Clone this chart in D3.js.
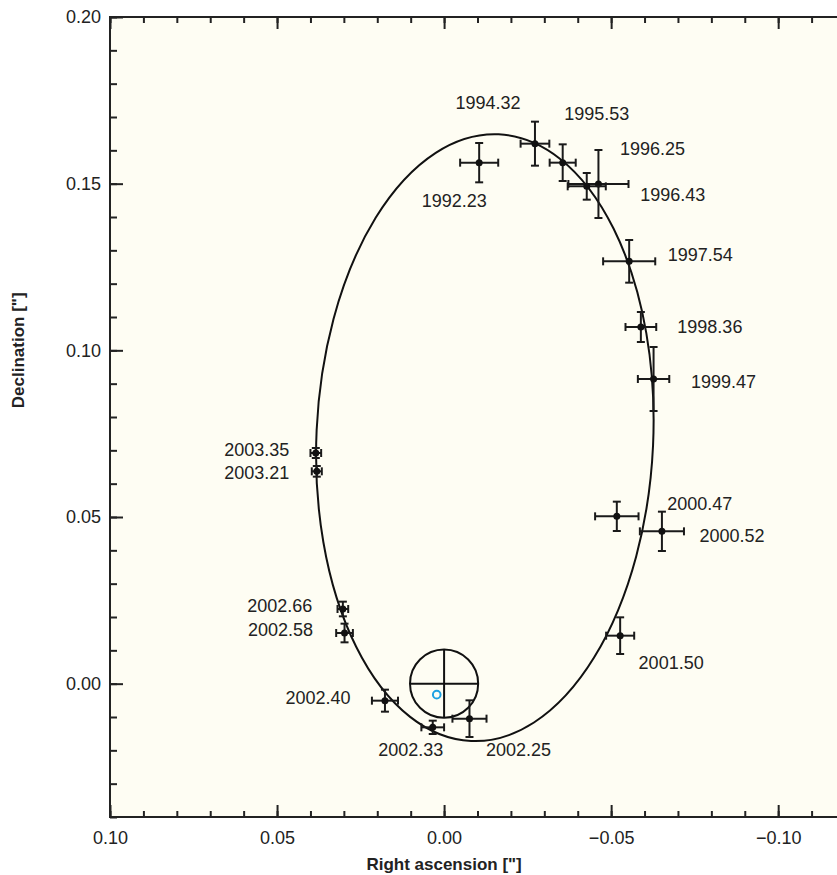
<!DOCTYPE html>
<meta charset="utf-8">
<head>
    <title>Orbit plot</title>
    <script src="https://d3js.org/d3.v7.min.js"></script>
    <style>
    body {
        margin: 0;
        background: #fff;
        font-family: "Liberation Sans", Arial, Helvetica, sans-serif;
    }
    .axis text {
        font: 18px "Liberation Sans", Arial, sans-serif;
        fill: #222;
    }
    .axis line {
        stroke: #222;
        stroke-width: 2;
    }
    .axis path {
        stroke-width: 0;
    }
    .err line {
        stroke: #1a1a1a;
        stroke-width: 2;
    }
    .lbl {
        font: 18px "Liberation Sans", Arial, sans-serif;
        fill: #222;
    }
    </style>
</head>
<body>
<script>

// epochs and measured offsets (arcsec)
var epochs = ["1992.23", "1994.32", "1995.53", "1996.25", "1996.43", "1997.54",
              "1998.36", "1999.47", "2000.47", "2000.52", "2001.50", "2002.25",
              "2002.33", "2002.40", "2002.58", "2002.66", "2003.21", "2003.35"];
var raValues  = [-0.0105, -0.0272, -0.0355, -0.0462, -0.0427, -0.0554,
                 -0.0589, -0.0627, -0.0517, -0.0652, -0.0527, -0.0076,
                  0.0034,  0.0177,  0.0298,  0.0303,  0.0381,  0.0384];
var decValues = [ 0.1563,  0.1620,  0.1563,  0.1499,  0.1492,  0.1267,
                  0.1070,  0.0914,  0.0502,  0.0457,  0.0144, -0.0105,
                 -0.0131, -0.0051,  0.0152,  0.0224,  0.0637,  0.0692];
var raErrors  = [0.0057, 0.0043, 0.0039, 0.0090, 0.0057, 0.0078,
                 0.0046, 0.0047, 0.0065, 0.0066, 0.0042, 0.0051,
                 0.0034, 0.0039, 0.0025, 0.0016, 0.0015, 0.0016];
var decErrors = [0.0059, 0.0066, 0.0055, 0.0102, 0.0040, 0.0064,
                 0.0045, 0.0096, 0.0044, 0.0059, 0.0055, 0.0055,
                 0.0020, 0.0033, 0.0028, 0.0022, 0.0016, 0.0015];

// fitted orbit: centre, semi-axes (arcsec) and tilt (deg)
var orbitCentre = [-0.0122, 0.0738];
var orbitAxes = [0.0504, 0.0911];
var orbitTilt = 2.6;

// central mass marker and its position estimate
var massMarker = [0.0, 0.0, 0.0102];
var massEstimate = [0.0022, -0.0033];

// tick values
var xMajor = [0.10, 0.05, 0.00, -0.05, -0.10];
var xMinor = d3.range(10, -13, -1).map(function(d) { return d / 100; });
var yMajor = [0.00, 0.05, 0.10, 0.15, 0.20];
var yMinor = d3.range(-4, 21).map(function(d) { return d / 100; });

// label offsets in pixels from each point (layout only)
var labelOffsets = [[-25, 38], [-47, -41], [34, -49], [54, -35], [86, 8], [71, -7],
                    [69, 0], [70, 3], [83, -13], [70, 4], [51, 27], [49, 31],
                    [-22, 22], [-67, -3], [-64, -3], [-63, -3], [-60, 1], [-59, -3]];

var margin = {top: 17, left: 110},
    width = 735,
    height = 800;

var x = d3.scaleLinear().domain([0.10, -0.12]).range([0, width]);
var y = d3.scaleLinear().domain([-0.04, 0.20]).range([height, 0]);

var svg = d3.select("body").append("svg")
    .attr("width", 837)
    .attr("height", 875)
  .append("g")
    .attr("transform", "translate(" + margin.left + "," + margin.top + ")");

// plot background
svg.append("rect")
    .attr("width", width)
    .attr("height", height)
    .attr("fill", "#fefdf3");

var fmt = d3.format(".2f");

// bottom axis
svg.append("g").attr("class", "axis")
    .attr("transform", "translate(0," + height + ")")
    .call(d3.axisBottom(x).tickValues(xMinor).tickSize(-6).tickSizeOuter(0).tickFormat(""));
svg.append("g").attr("class", "axis")
    .attr("transform", "translate(0," + height + ")")
    .call(d3.axisBottom(x).tickValues(xMajor).tickSize(-12).tickSizeOuter(0)
        .tickPadding(14).tickFormat(fmt));

// top axis
svg.append("g").attr("class", "axis")
    .call(d3.axisTop(x).tickValues(xMinor).tickSize(-6).tickSizeOuter(0).tickFormat(""));
svg.append("g").attr("class", "axis")
    .call(d3.axisTop(x).tickValues(xMajor).tickSize(-12).tickSizeOuter(0).tickFormat(""));

// left axis
svg.append("g").attr("class", "axis")
    .call(d3.axisLeft(y).tickValues(yMinor).tickSize(-7).tickSizeOuter(0).tickFormat(""));
svg.append("g").attr("class", "axis")
    .call(d3.axisLeft(y).tickValues(yMajor).tickSize(-13).tickSizeOuter(0)
        .tickPadding(9).tickFormat(fmt));

// frame
svg.append("rect")
    .attr("width", width)
    .attr("height", height)
    .attr("fill", "none")
    .attr("stroke", "#222")
    .attr("stroke-width", 2);

// axis titles
svg.append("text")
    .attr("x", x(0))
    .attr("y", height + 53)
    .attr("text-anchor", "middle")
    .style("font", "bold 17px 'Liberation Sans', Arial, sans-serif")
    .style("fill", "#222")
    .text("Right ascension [\"]");

svg.append("text")
    .attr("transform", "rotate(-90)")
    .attr("x", -y(0.10))
    .attr("y", -margin.left + 24)
    .attr("text-anchor", "middle")
    .style("font", "bold 17px 'Liberation Sans', Arial, sans-serif")
    .style("fill", "#222")
    .text("Declination [\"]");

// orbit ellipse
var ocx = x(orbitCentre[0]), ocy = y(orbitCentre[1]);
svg.append("ellipse")
    .attr("cx", ocx)
    .attr("cy", ocy)
    .attr("rx", Math.abs(x(orbitAxes[0]) - x(0)))
    .attr("ry", Math.abs(y(orbitAxes[1]) - y(0)))
    .attr("transform", "rotate(" + orbitTilt + "," + ocx + "," + ocy + ")")
    .attr("fill", "none")
    .attr("stroke", "#111")
    .attr("stroke-width", 2);

// central mass marker (circle with cross)
var mr = Math.abs(x(massMarker[2]) - x(0));
var mx = x(massMarker[0]), my = y(massMarker[1]);
var marker = svg.append("g").attr("stroke", "#111").attr("stroke-width", 2).attr("fill", "none");
marker.append("circle").attr("cx", mx).attr("cy", my).attr("r", mr);
marker.append("line").attr("x1", mx - mr).attr("x2", mx + mr).attr("y1", my).attr("y2", my);
marker.append("line").attr("x1", mx).attr("x2", mx).attr("y1", my - mr).attr("y2", my + mr);

svg.append("circle")
    .attr("cx", x(massEstimate[0]))
    .attr("cy", y(massEstimate[1]))
    .attr("r", 3.8)
    .attr("fill", "none")
    .attr("stroke", "#1da1e2")
    .attr("stroke-width", 2);

// data points with error bars
var data = epochs.map(function(e, i) {
    return {epoch: e, ra: raValues[i], dec: decValues[i],
            dra: raErrors[i], ddec: decErrors[i], off: labelOffsets[i]};
});

var pts = svg.selectAll(".err")
    .data(data)
  .enter().append("g")
    .attr("class", "err");

pts.append("line")
    .attr("x1", function(d) { return x(d.ra - d.dra); })
    .attr("x2", function(d) { return x(d.ra + d.dra); })
    .attr("y1", function(d) { return y(d.dec); })
    .attr("y2", function(d) { return y(d.dec); });
pts.append("line")
    .attr("x1", function(d) { return x(d.ra); })
    .attr("x2", function(d) { return x(d.ra); })
    .attr("y1", function(d) { return y(d.dec - d.ddec); })
    .attr("y2", function(d) { return y(d.dec + d.ddec); });
// caps
[-1, 1].forEach(function(s) {
    pts.append("line")
        .attr("x1", function(d) { return x(d.ra + s * d.dra); })
        .attr("x2", function(d) { return x(d.ra + s * d.dra); })
        .attr("y1", function(d) { return y(d.dec) - 4; })
        .attr("y2", function(d) { return y(d.dec) + 4; });
    pts.append("line")
        .attr("x1", function(d) { return x(d.ra) - 4; })
        .attr("x2", function(d) { return x(d.ra) + 4; })
        .attr("y1", function(d) { return y(d.dec + s * d.ddec); })
        .attr("y2", function(d) { return y(d.dec + s * d.ddec); });
});
pts.append("circle")
    .attr("cx", function(d) { return x(d.ra); })
    .attr("cy", function(d) { return y(d.dec); })
    .attr("r", 3.5)
    .attr("fill", "#111");

pts.append("text")
    .attr("class", "lbl")
    .attr("x", function(d) { return x(d.ra) + d.off[0]; })
    .attr("y", function(d) { return y(d.dec) + d.off[1]; })
    .attr("dy", "0.35em")
    .attr("text-anchor", "middle")
    .text(function(d) { return d.epoch; });

</script>
</body>
